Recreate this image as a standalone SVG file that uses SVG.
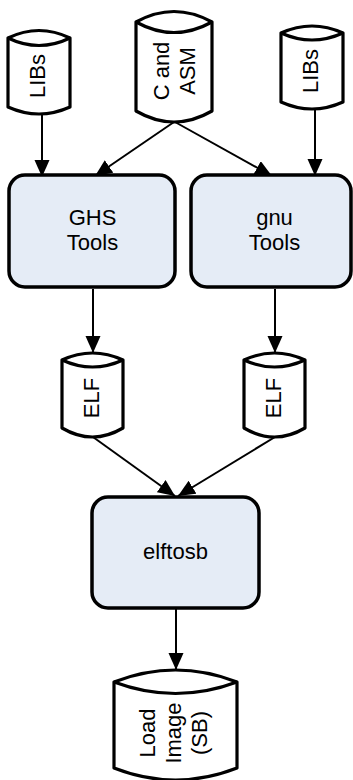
<svg xmlns="http://www.w3.org/2000/svg" width="353" height="780" viewBox="0 0 353 780">
<style>
.cyl{fill:#ffffff;stroke:#000;stroke-width:3.2;stroke-linejoin:round}
.box{fill:#e5ecf6;stroke:#000;stroke-width:3.5}
.t{font-family:"Liberation Sans",Arial,sans-serif;font-size:22px;fill:#000;text-anchor:middle}
.c{fill:none;stroke:#000;stroke-width:2}
</style>
<defs>
<marker id="ah" markerUnits="userSpaceOnUse" markerWidth="19" markerHeight="16" refX="17" refY="7.5" orient="auto">
<path d="M0,0 L17,7.5 L0,15 Z" fill="#000"/>
</marker>
</defs>
<rect width="353" height="780" fill="#fff"/>
<g id="connectors">
<line class="c" x1="42" y1="115" x2="42" y2="177" marker-end="url(#ah)"/>
<line class="c" x1="174" y1="122" x2="95" y2="176" marker-end="url(#ah)"/>
<line class="c" x1="175" y1="122" x2="272" y2="176" marker-end="url(#ah)"/>
<line class="c" x1="315" y1="110" x2="315" y2="176" marker-end="url(#ah)"/>
<line class="c" x1="93" y1="289" x2="93" y2="353" marker-end="url(#ah)"/>
<line class="c" x1="275" y1="289" x2="275" y2="353" marker-end="url(#ah)"/>
<line class="c" x1="93" y1="437" x2="175" y2="496" marker-end="url(#ah)"/>
<line class="c" x1="275" y1="437" x2="178" y2="496" marker-end="url(#ah)"/>
<line class="c" x1="176" y1="609" x2="176" y2="670" marker-end="url(#ah)"/>
</g>
<g id="libs-left">
<path class="cyl" d="M8,38 Q39,23 70,38 L70,107 Q39,121 8,107 Z"/>
<path class="cyl" d="M8,38 Q39,53 70,38"/>
<text class="t" transform="translate(37,76) rotate(-90)" y="8">LIBs</text>
</g>
<g id="c-asm">
<path class="cyl" d="M136,22 Q174,1 212,22 L212,111 Q174,133 136,111 Z"/>
<path class="cyl" d="M136,22 Q174,43 212,22"/>
<text class="t" transform="translate(174,71) rotate(-90)"><tspan x="0" y="-5">C and</tspan><tspan x="0" y="20.5">ASM</tspan></text>
</g>
<g id="libs-right">
<path class="cyl" d="M281,33 Q312,19 343,33 L343,102 Q312,116 281,102 Z"/>
<path class="cyl" d="M281,33 Q312,47 343,33"/>
<text class="t" transform="translate(310,71) rotate(-90)" y="8">LIBs</text>
</g>
<g id="ghs-tools">
<rect class="box" x="9" y="175" width="166" height="112" rx="16"/>
<text class="t" x="92.5" y="225">GHS</text>
<text class="t" x="92.5" y="250">Tools</text>
</g>
<g id="gnu-tools">
<rect class="box" x="191" y="175" width="160" height="112" rx="16"/>
<text class="t" x="274.5" y="225">gnu</text>
<text class="t" x="274.5" y="250">Tools</text>
</g>
<g id="elf-left">
<path class="cyl" d="M62,360 Q92.5,346 123,360 L123,428 Q92.5,446 62,428 Z"/>
<path class="cyl" d="M62,360 Q92.5,374 123,360"/>
<text class="t" transform="translate(90.5,398) rotate(-90)" y="8">ELF</text>
</g>
<g id="elf-right">
<path class="cyl" d="M244,360 Q274.5,346 305,360 L305,428 Q274.5,446 244,428 Z"/>
<path class="cyl" d="M244,360 Q274.5,374 305,360"/>
<text class="t" transform="translate(272.5,398) rotate(-90)" y="8">ELF</text>
</g>
<g id="elftosb">
<rect class="box" x="92" y="497" width="167" height="111" rx="16"/>
<text class="t" x="175.5" y="559">elftosb</text>
</g>
<g id="load-image">
<path class="cyl" d="M114,682 Q175.5,658 237,682 L237,768 Q175.5,792 114,768 Z"/>
<path class="cyl" d="M114,682 Q175.5,705 237,682"/>
<text class="t" transform="translate(175,733) rotate(-90)"><tspan x="0" y="-20">Load</tspan><tspan x="0" y="6">Image</tspan><tspan x="0" y="32">(SB)</tspan></text>
</g>
</svg>
